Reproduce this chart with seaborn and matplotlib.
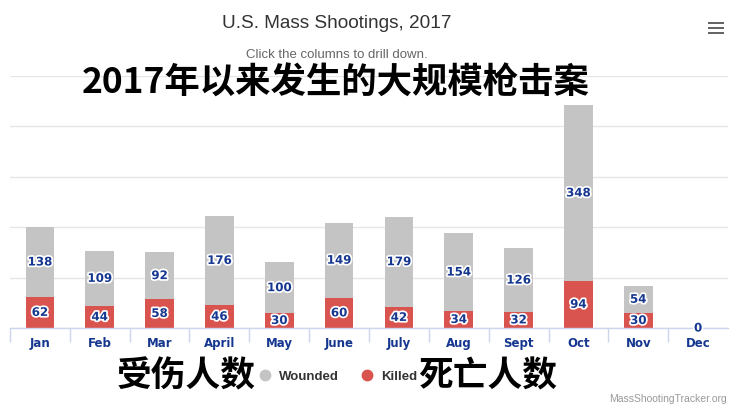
import matplotlib
matplotlib.use("Agg")
import matplotlib.pyplot as plt
import matplotlib.patheffects as pe
from matplotlib.lines import Line2D
from matplotlib.patches import Rectangle
import seaborn as sns
import numpy as np

months = ["Jan", "Feb", "Mar", "April", "May", "June", "July", "Aug", "Sept", "Oct", "Nov", "Dec"]
killed = [62, 44, 58, 46, 30, 60, 42, 34, 32, 94, 30, 0]
wounded = [138, 109, 92, 176, 100, 149, 179, 154, 126, 348, 54, 0]
y_ticks = [0, 100, 200, 300, 400, 500]

GRAY = "#c4c4c4"
RED = "#d9534f"
LABEL_BLUE = "#15378f"
NARROW = ["Liberation Sans", "DejaVu Sans"]
CJK = ["Noto Sans CJK SC", "DejaVu Sans"]

sns.set_theme(style="white")
plt.rcParams["font.family"] = ["DejaVu Sans"]

fig = plt.figure(figsize=(7.38, 4.10), dpi=100)
W, H = 738, 410
ax = fig.add_axes([10 / W, (H - 329) / H, 718 / W, 252 / H])

sns.barplot(x=months, y=killed, color=RED, width=0.48, saturation=1, ax=ax, linewidth=0)
sns.barplot(x=months, y=wounded, bottom=killed, color=GRAY, width=0.48, saturation=1, ax=ax, linewidth=0)

ax.set_xlim(-0.5, len(months) - 0.5)
ax.set_ylim(0, 500)
ax.set_yticks(y_ticks)
ax.set_yticklabels([])
ax.tick_params(axis="y", length=0)
ax.yaxis.grid(True, color="#e6e6e6", linewidth=1)
ax.set_axisbelow(True)
for s in ["left", "right", "top"]:
    ax.spines[s].set_visible(False)
ax.spines["bottom"].set_color("#ccd6eb")
ax.spines["bottom"].set_linewidth(1)
ax.set_xlabel("")
ax.set_ylabel("")

# tick marks on category boundaries
ax.set_xticks(np.arange(len(months)) - 0.5, minor=True)
ax.tick_params(axis="x", which="minor", length=10, color="#ccd6eb", width=1, bottom=True)
ax.tick_params(axis="x", which="major", length=0, pad=6)
for lbl in ax.get_xticklabels():
    lbl.set_fontweight("bold")
    lbl.set_color(LABEL_BLUE)
    lbl.set_fontsize(8.5)

stroke = [pe.withStroke(linewidth=2.5, foreground="white")]
k_labels = [str(v) if v > 0 else "" for v in killed]
w_labels = [str(v) for v in wounded]
ax.bar_label(ax.containers[0], labels=k_labels, label_type="center", fontsize=8.5,
             fontweight="bold", color=LABEL_BLUE, path_effects=stroke)
ax.bar_label(ax.containers[1], labels=w_labels, label_type="center", fontsize=8.5,
             fontweight="bold", color=LABEL_BLUE, path_effects=stroke)

# titles
fig.text(337 / W, 1 - 23 / H, "U.S. Mass Shootings, 2017", ha="center", va="center",
         fontsize=13.7, color="#333333", family=NARROW)
fig.text(337 / W, 1 - 55 / H, "Click the columns to drill down.", ha="center", va="center",
         fontsize=9.5, color="#666666", family=NARROW)
fig.text(336 / W, 1 - 83 / H, "2017年以来发生的大规模枪击案", ha="center", va="center",
         fontsize=25.5, fontweight="bold", color="black", family=CJK)

# legend
handles = [Line2D([], [], marker="o", linestyle="none", markersize=7.5, color=GRAY),
           Line2D([], [], marker="o", linestyle="none", markersize=7.5, color=RED)]
leg = fig.legend(handles, ["Wounded", "Killed"], loc="center", ncol=2,
                 bbox_to_anchor=(338 / W, 1 - 377 / H), frameon=False,
                 handletextpad=0.6, columnspacing=1.6, handlelength=1.0,
                 borderpad=0, borderaxespad=0,
                 prop={"family": NARROW, "weight": "bold", "size": 9.5})
for t in leg.get_texts():
    t.set_color("#333333")
fig.text(186 / W, 1 - 376 / H, "受伤人数", ha="center", va="center",
         fontsize=25, fontweight="bold", color="black", family=CJK)
fig.text(488 / W, 1 - 376 / H, "死亡人数", ha="center", va="center",
         fontsize=25, fontweight="bold", color="black", family=CJK)

fig.text(727 / W, 1 - 399 / H, "MassShootingTracker.org", ha="right", va="center",
         fontsize=7.5, color="#999999", family=NARROW)

# menu icon
for yy in (24, 29, 34):
    fig.add_artist(Rectangle((708 / W, 1 - (yy + 1.2) / H), 16 / W, 2.6 / H,
                             transform=fig.transFigure, color="#666666", lw=0))

fig.savefig("out.png", dpi=100, facecolor="white")
